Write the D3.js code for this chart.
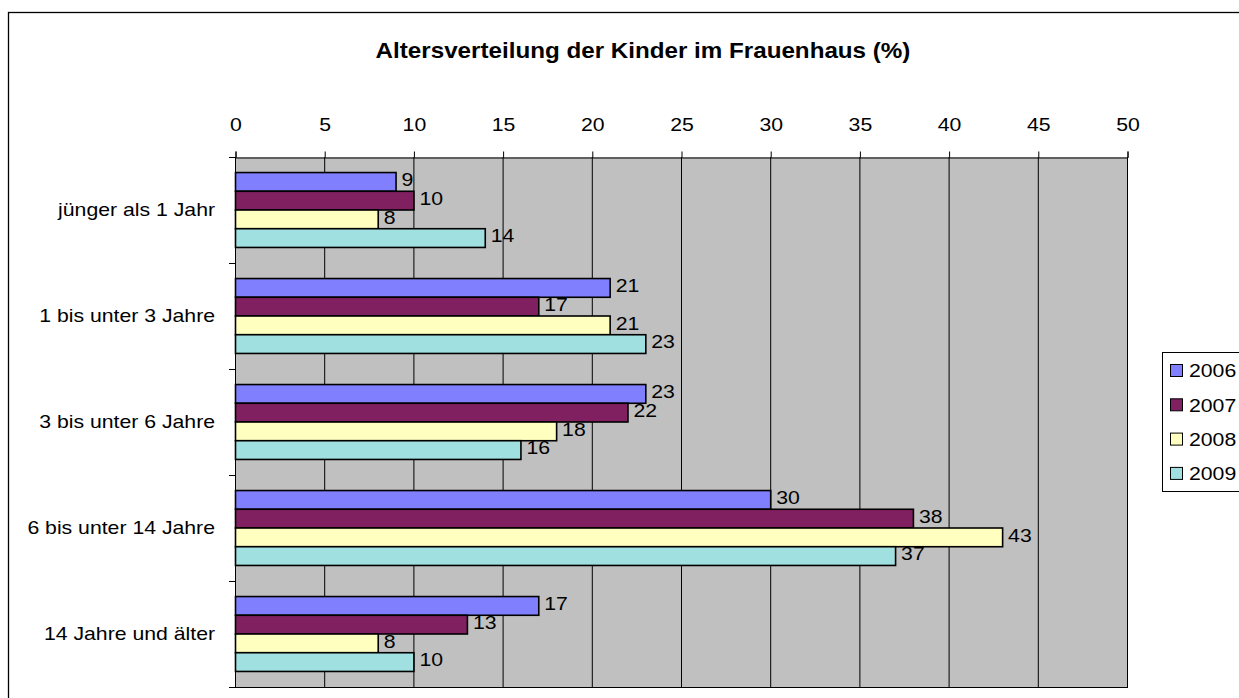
<!DOCTYPE html>
<html>
<head>
<meta charset="utf-8">
<script src="https://cdn.jsdelivr.net/npm/d3@7"></script>
<style>
  body { margin: 0; background: #fff; }
  svg { display: block; font-family: "Liberation Sans", Arial, sans-serif; }
</style>
</head>
<body>
<div id="chart"></div>
<script>
// data
const categories = ["jünger als 1 Jahr", "1 bis unter 3 Jahre", "3 bis unter 6 Jahre", "6 bis unter 14 Jahre", "14 Jahre und älter"];
const years = ["2006", "2007", "2008", "2009"];
const values2006 = [9, 21, 23, 30, 17];
const values2007 = [10, 17, 22, 38, 13];
const values2008 = [8, 21, 18, 43, 8];
const values2009 = [14, 23, 16, 37, 10];
const xTicks = [0, 5, 10, 15, 20, 25, 30, 35, 40, 45, 50];
const colors = ["#8080ff", "#802060", "#ffffc0", "#a0e0e0"];

const series = [values2006, values2007, values2008, values2009];
const rows = categories.map((c, i) => ({
  cat: c,
  vals: years.map((y, j) => ({year: y, value: series[j][i]}))
}));

const width = 1239, height = 698;
const plotLeft = 235, plotRight = 1127, plotTop = 157, plotBottom = 687;
const fs = 18, stretch = 1.18; // text in the original looks a bit wide

const svg = d3.select("#chart")
  .append("svg")
  .attr("width", width)
  .attr("height", height);

// place a text with horizontal stretch around its anchor point
function place(sel, fx, fy) {
  sel.attr("transform", (d, i) => `translate(${fx(d, i)},${fy(d, i)}) scale(${stretch},1)`);
}

// outer chart border (runs off the picture on the right and bottom)
svg.append("rect")
  .attr("x", 8.5).attr("y", 12.5)
  .attr("width", 1260).attr("height", 720)
  .attr("fill", "#fff")
  .attr("stroke", "#000")
  .attr("stroke-width", 1.3);

const x = d3.scaleLinear().domain([0, 50]).range([plotLeft, plotRight]);
const y = d3.scaleBand().domain(categories).range([plotTop, plotBottom]).paddingInner(0).paddingOuter(0);
const yInner = d3.scaleBand().domain(years).range([0, y.bandwidth()]).paddingOuter(0.83);

// plot area
svg.append("rect")
  .attr("x", plotLeft).attr("y", plotTop)
  .attr("width", plotRight - plotLeft).attr("height", plotBottom - plotTop)
  .attr("fill", "#c0c0c0");

// vertical gridlines
svg.append("g")
  .selectAll("line")
  .data(xTicks)
  .join("line")
  .attr("x1", d => x(d) + 0.5).attr("x2", d => x(d) + 0.5)
  .attr("y1", plotTop).attr("y2", plotBottom)
  .attr("stroke", "#000")
  .attr("stroke-width", 1);

// top value axis
const xAxis = svg.append("g")
  .attr("transform", `translate(0.5,${plotTop + 0.5})`)
  .call(d3.axisTop(x).tickValues(xTicks).tickSize(6).tickPadding(21).tickFormat(d3.format("d")));
xAxis.selectAll("text")
  .attr("font-size", fs)
  .attr("fill", "#000")
  .attr("font-family", "Liberation Sans, Arial, sans-serif")
  .attr("transform", `scale(${stretch},1)`);
xAxis.selectAll("line,path").attr("stroke", "#000");

// left category axis
const yTickVals = d3.range(categories.length + 1).map(i => plotTop + i * y.step());
svg.append("line")
  .attr("x1", plotLeft + 0.5).attr("x2", plotLeft + 0.5)
  .attr("y1", plotTop).attr("y2", plotBottom)
  .attr("stroke", "#000");
svg.append("line")
  .attr("x1", plotLeft).attr("x2", plotRight + 1)
  .attr("y1", plotBottom + 0.5).attr("y2", plotBottom + 0.5)
  .attr("stroke", "#000");
svg.append("g")
  .selectAll("line")
  .data(yTickVals)
  .join("line")
  .attr("x1", plotLeft - 6).attr("x2", plotLeft)
  .attr("y1", d => Math.round(d) + 0.5).attr("y2", d => Math.round(d) + 0.5)
  .attr("stroke", "#000");

svg.append("g")
  .selectAll("text")
  .data(categories)
  .join("text")
  .attr("dy", "0.35em")
  .attr("text-anchor", "end")
  .attr("font-size", fs)
  .text(d => d)
  .call(place, () => 215, d => y(d) + y.bandwidth() / 2);

// bars
const groups = svg.append("g")
  .selectAll("g")
  .data(rows)
  .join("g")
  .attr("transform", d => `translate(0,${y(d.cat)})`);

groups.selectAll("rect")
  .data(d => d.vals)
  .join("rect")
  .attr("x", x(0) + 0.5)
  .attr("y", d => yInner(d.year))
  .attr("width", d => x(d.value) - x(0))
  .attr("height", yInner.bandwidth())
  .attr("fill", (d, i) => colors[i])
  .attr("stroke", "#000")
  .attr("stroke-width", 1.6);

groups.selectAll("text")
  .data(d => d.vals)
  .join("text")
  .attr("dy", "0.35em")
  .attr("font-size", fs)
  .text(d => d.value)
  .call(place, d => x(d.value) + 6, d => yInner(d.year) + yInner.bandwidth() / 2 - 2);

// title
svg.append("text")
  .attr("text-anchor", "middle")
  .attr("font-size", 22)
  .attr("font-weight", "bold")
  .attr("transform", "translate(643,58) scale(1.1,1)")
  .text("Altersverteilung der Kinder im Frauenhaus (%)");

// legend
const legend = svg.append("g").attr("transform", "translate(1162,352)");
legend.append("rect")
  .attr("x", 0.5).attr("y", 0.5)
  .attr("width", 100).attr("height", 139)
  .attr("fill", "#fff")
  .attr("stroke", "#000");
const items = legend.selectAll("g.item")
  .data(years)
  .join("g")
  .attr("class", "item")
  .attr("transform", (d, i) => `translate(0,${18 + i * 34.3})`);
items.append("rect")
  .attr("x", 8.5).attr("y", -5.5)
  .attr("width", 12).attr("height", 12)
  .attr("fill", (d, i) => colors[i])
  .attr("stroke", "#000");
items.append("text")
  .attr("dy", "0.35em")
  .attr("font-size", fs)
  .attr("transform", `translate(27,1) scale(${stretch},1)`)
  .text(d => d);
</script>
</body>
</html>
